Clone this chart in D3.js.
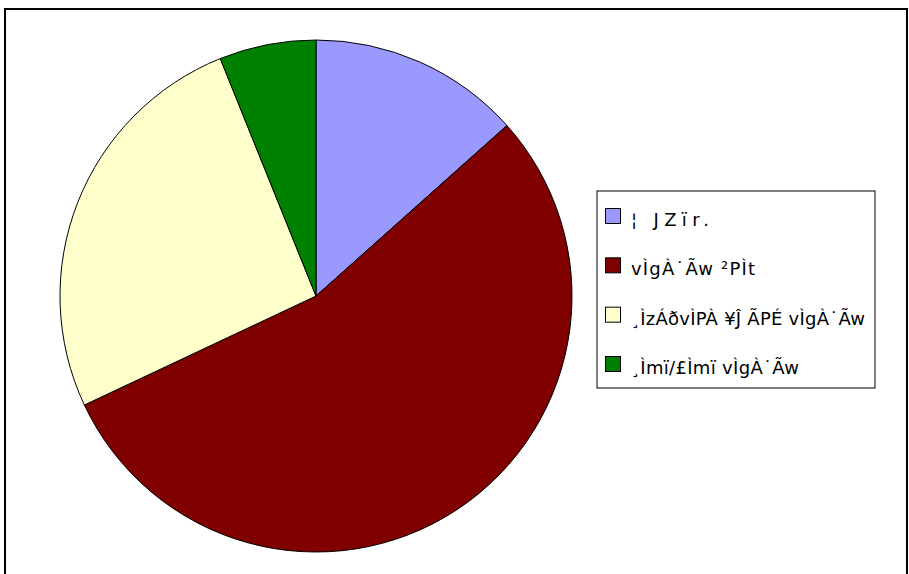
<!DOCTYPE html>
<html>
<head>
<meta charset="utf-8">
<script src="https://cdn.jsdelivr.net/npm/d3@7"></script>
<style>
  body { margin: 0; background: #fff; }
  svg { display: block; }
</style>
</head>
<body>
<svg width="909" height="574"></svg>
<script>
// --- Data ---
const labels = ["¦ JZïr.", "vÌgÀ˙Ãw  ²PÌt", "¸ÌzÁðvÌPÀ ¥Ĵ ÃPÉ vÌgÀ˙Ãw", "¸Ìmï/£Ìmï  vÌgÀ˙Ãw"];
const values = [13.4, 54.6, 25.9, 6.1];
const colors = ["#9999ff", "#800000", "#ffffcc", "#008000"];

// --- Setup ---
const svg = d3.select("svg"),
    width = +svg.attr("width"),
    height = +svg.attr("height");

// outer frame
svg.append("rect")
    .attr("x", 5).attr("y", 9)
    .attr("width", 902).attr("height", 580)
    .attr("fill", "#fff")
    .attr("stroke", "#000")
    .attr("stroke-width", 2);

// --- Pie ---
const cx = 316, cy = 296, radius = 256;

const pie = d3.pie().sort(null).value(d => d);
const arc = d3.arc().innerRadius(0).outerRadius(radius);

svg.append("g")
    .attr("transform", `translate(${cx},${cy})`)
    .selectAll("path")
    .data(pie(values))
    .enter().append("path")
    .attr("d", arc)
    .attr("fill", (d, i) => colors[i])
    .attr("stroke", "#000")
    .attr("stroke-width", 1);

// --- Legend ---
const legendX = 597, legendY = 191, legendW = 278, legendH = 197;
const textWidths = [78, 124, 234, 168];  // rendered widths of the garbled labels
const legend = svg.append("g");

legend.append("rect")
    .attr("x", legendX).attr("y", legendY)
    .attr("width", legendW).attr("height", legendH)
    .attr("fill", "#fff")
    .attr("stroke", "#000")
    .attr("stroke-width", 1);

const rowY = d3.scalePoint().domain(d3.range(labels.length)).range([216, 364]);

const rows = legend.selectAll("g.row")
    .data(labels)
    .enter().append("g")
    .attr("class", "row")
    .attr("transform", (d, i) => `translate(0,${rowY(i)})`);

rows.append("rect")
    .attr("x", 605.5).attr("y", -7.5)
    .attr("width", 15).attr("height", 15)
    .attr("fill", (d, i) => colors[i])
    .attr("stroke", "#000")
    .attr("stroke-width", 1);

rows.append("text")
    .attr("x", 631)
    .attr("y", 10)
    .attr("font-family", "DejaVu Sans, sans-serif")
    .attr("font-size", "18px")
    .attr("fill", "#000")
    .attr("textLength", (d, i) => textWidths[i])
    .attr("lengthAdjust", "spacing")
    .text(d => d);
</script>
</body>
</html>
